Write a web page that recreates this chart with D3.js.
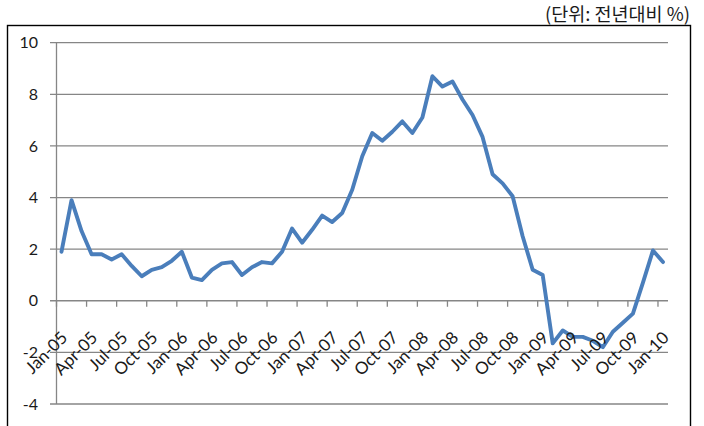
<!DOCTYPE html>
<html>
<head>
<meta charset="utf-8">
<script src="https://cdn.jsdelivr.net/npm/d3@7"></script>
<style>
  body { margin: 0; background: #fff; }
  svg { display: block; }
  text { font-family: Lato, "Noto Sans", sans-serif; fill: #1a1a1a; }
</style>
</head>
<body>
<svg id="chart" width="704" height="426"></svg>
<script>
// monthly, Jan-05 .. Jan-10
const months = d3.timeMonths(new Date(2005, 0, 1), new Date(2010, 1, 1));
const categories = months.map(d3.timeFormat('%b-%y'));
const values = [
  1.9, 3.9, 2.7, 1.8, 1.8, 1.6, 1.8, 1.35, 0.95, 1.2, 1.3, 1.55,
  1.9, 0.9, 0.8, 1.2, 1.45, 1.5, 1.0, 1.3, 1.5, 1.45, 1.9, 2.8,
  2.25, 2.75, 3.3, 3.05, 3.4, 4.3, 5.6, 6.5, 6.2, 6.55, 6.95, 6.5,
  7.1, 8.7, 8.3, 8.5, 7.8, 7.2, 6.35, 4.9, 4.55, 4.05, 2.5, 1.2,
  1.0, -1.65, -1.15, -1.4, -1.4, -1.55, -1.8, -1.2, -0.85, -0.5, 0.7, 1.95,
  1.5
];
const yTicks = [-4, -2, 0, 2, 4, 6, 8, 10];
const unitLabel = '(단위: 전년대비 %)';

const svg = d3.select('#chart');

const x = d3.scaleBand()
  .domain(d3.range(categories.length))
  .range([56.5, 668])
  .padding(0);
const y = d3.scaleLinear().domain([-4, 10]).range([404, 42.7]);
const cx = i => x(i) + x.bandwidth() / 2;

// frame
svg.append('rect')
  .attr('x', 7.5).attr('y', 25.5)
  .attr('width', 683).attr('height', 420)
  .attr('fill', 'none')
  .attr('stroke', '#000')
  .attr('stroke-width', 1.4);

svg.append('text')
  .attr('x', 690).attr('y', 21)
  .attr('text-anchor', 'end')
  .style('font-family', '"Noto Sans CJK KR", sans-serif')
  .style('font-size', '18.5px')
  .text(unitLabel);

// gridlines + y axis
svg.append('g')
  .selectAll('line')
  .data(yTicks)
  .join('line')
  .attr('x1', 50).attr('x2', 668)
  .attr('y1', d => y(d)).attr('y2', d => y(d))
  .attr('stroke', '#868686')
  .attr('stroke-width', 1.3);

svg.append('line')
  .attr('x1', 56.5).attr('x2', 56.5)
  .attr('y1', y(10)).attr('y2', y(-4))
  .attr('stroke', '#868686')
  .attr('stroke-width', 1.3);

svg.append('g')
  .selectAll('text')
  .data(yTicks)
  .join('text')
  .attr('x', 38)
  .attr('y', d => y(d))
  .attr('dy', '0.35em')
  .attr('text-anchor', 'end')
  .style('font-size', '16px')
  .text(d => d);

// x axis ticks at category boundaries, every 3rd
const tickIdx = d3.range(0, categories.length, 3);
svg.append('g')
  .selectAll('line')
  .data(tickIdx)
  .join('line')
  .attr('x1', d => x(d)).attr('x2', d => x(d))
  .attr('y1', y(0)).attr('y2', y(0) + 6)
  .attr('stroke', '#868686')
  .attr('stroke-width', 1.3);

// the line
const line = d3.line()
  .x((d, i) => cx(i))
  .y(d => y(d));

svg.append('path')
  .datum(values)
  .attr('d', line)
  .attr('fill', 'none')
  .attr('stroke', '#4a7ebb')
  .attr('stroke-width', 3.9)
  .attr('stroke-linejoin', 'round')
  .attr('stroke-linecap', 'round');

// rotated category labels
svg.append('g')
  .selectAll('text')
  .data(tickIdx)
  .join('text')
  .attr('transform', d => `translate(${cx(d) + 7},${y(0) + 38}) rotate(-45)`)
  .attr('text-anchor', 'end')
  .style('font-size', '17px')
  .text(d => categories[d]);
</script>
</body>
</html>
